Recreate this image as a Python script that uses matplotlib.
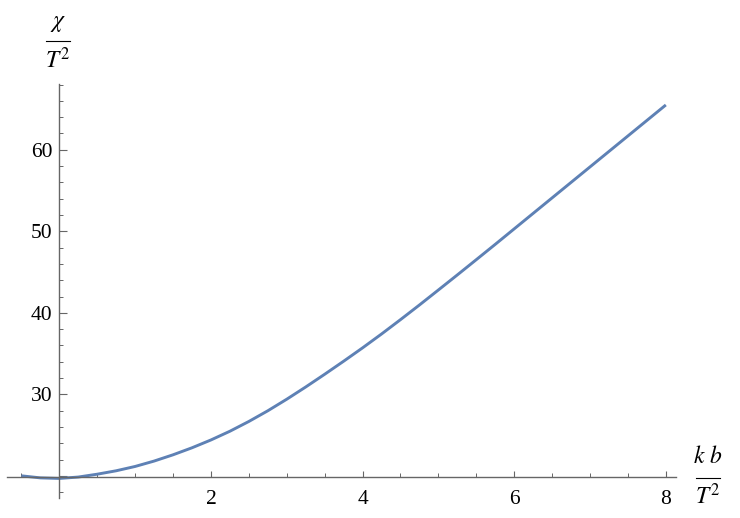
import matplotlib
matplotlib.use("Agg")
import matplotlib.pyplot as plt
from matplotlib.lines import Line2D
from matplotlib.ticker import MultipleLocator, FixedLocator

# values
kb_T2 = [-0.5, -0.25, 0.0, 0.25, 0.5, 0.75, 1.0, 1.25, 1.5, 1.75, 2.0, 2.25, 2.5, 2.75,
         3.0, 3.25, 3.5, 3.75, 4.0, 4.25, 4.5, 4.75, 5.0, 5.25, 5.5, 5.75, 6.0, 6.25,
         6.5, 6.75, 7.0, 7.25, 7.5, 7.75, 8.0]
chi_T2 = [20.0, 19.75, 19.68, 19.85, 20.2, 20.62, 21.15, 21.81, 22.58, 23.44, 24.4, 25.47,
          26.67, 27.98, 29.4, 30.9, 32.46, 34.06, 35.7, 37.4, 39.16, 40.96, 42.8, 44.65,
          46.52, 48.4, 50.3, 52.2, 54.1, 56.0, 57.9, 59.8, 61.7, 63.6, 65.5]
x_ticks = [2, 4, 6, 8]
y_ticks = [30, 40, 50, 60]

plt.rcParams['mathtext.fontset'] = 'stix'
plt.rcParams['font.family'] = ['Liberation Serif', 'DejaVu Serif']

W, H = 740, 518
fig = plt.figure(figsize=(W / 100, H / 100), dpi=100)
ax = fig.add_axes([7.3 / W, 1 - 498 / H, (675.7 - 7.3) / W, (498 - 84) / H])

ax.plot(kb_T2, chi_T2, color='#5e81b5', lw=2.1, solid_capstyle='butt',
        solid_joinstyle='round', clip_on=False)

ax.set_xlim(-0.686, 8.13)
ax.set_ylim(17.28, 68.07)

axis_col = '#666666'
for s in ['top', 'right']:
    ax.spines[s].set_visible(False)
ax.spines['left'].set_position(('data', 0))
ax.spines['bottom'].set_position(('data', 19.8))
for s in ['left', 'bottom']:
    ax.spines[s].set_color(axis_col)
    ax.spines[s].set_linewidth(1.0)

ax.xaxis.set_major_locator(FixedLocator(x_ticks))
ax.xaxis.set_minor_locator(MultipleLocator(0.5))
ax.yaxis.set_major_locator(FixedLocator([20] + y_ticks))
ax.yaxis.set_minor_locator(MultipleLocator(2))
ax.set_xticklabels([str(v) for v in x_ticks])
ax.set_yticklabels([''] + [str(v) for v in y_ticks])

ax.tick_params(axis='x', which='major', direction='in', length=4.5, width=0.8,
               color=axis_col, labelsize=15.5, pad=9)
ax.tick_params(axis='x', which='minor', direction='in', length=2.8, width=0.7, color=axis_col)
ax.tick_params(axis='y', which='major', direction='in', length=5.5, width=0.8,
               color=axis_col, labelsize=15.5, pad=5)
ax.tick_params(axis='y', which='minor', direction='in', length=3.0, width=0.7, color=axis_col)

# axis labels drawn as stacked fractions
def frac(xc, y_num, y_bar, y_den, x0, x1, num):
    fig.text(xc / W, 1 - y_num / H, num, ha='center', va='center', fontsize=17)
    fig.text(xc / W, 1 - y_den / H, r'$T^2$', ha='center', va='center', fontsize=17)
    fig.add_artist(Line2D([x0 / W, x1 / W], [1 - y_bar / H, 1 - y_bar / H],
                          color='black', lw=0.8, transform=fig.transFigure))

frac(58, 24, 41, 60, 46, 70, r'$\chi$')
frac(708, 457, 478, 496, 696, 720, r'$k\ b$')

fig.savefig('out.png', dpi=100)
